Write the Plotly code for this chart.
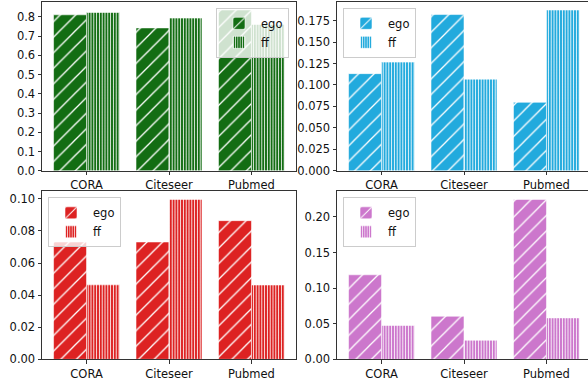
import plotly.graph_objects as go

# Datasets on the x axis
categories = ["CORA", "Citeseer", "Pubmed"]

# One metric per panel, two sampling strategies each
panel1_ego = [0.810, 0.742, 0.835]
panel1_ff = [0.822, 0.793, 0.760]

panel2_ego = [0.1132, 0.1820, 0.0798]
panel2_ff = [0.1266, 0.1068, 0.1873]

panel3_ego = [0.0731, 0.0731, 0.0864]
panel3_ff = [0.0464, 0.0996, 0.0463]

panel4_ego = [0.1187, 0.0605, 0.2245]
panel4_ff = [0.0476, 0.0268, 0.0582]

panel_colors = ["#136d13", "#22aadd", "#dd2222", "#cc77cc"]

y_ticks = [
    [0.0, 0.1, 0.2, 0.3, 0.4, 0.5, 0.6, 0.7, 0.8],
    [0.0, 0.025, 0.05, 0.075, 0.1, 0.125, 0.15, 0.175],
    [0.0, 0.02, 0.04, 0.06, 0.08, 0.10],
    [0.0, 0.05, 0.10, 0.15, 0.20],
]
y_tick_text = [
    ["0.0", "0.1", "0.2", "0.3", "0.4", "0.5", "0.6", "0.7", "0.8"],
    ["0.000", "0.025", "0.050", "0.075", "0.100", "0.125", "0.150", "0.175"],
    ["0.00", "0.02", "0.04", "0.06", "0.08", "0.10"],
    ["0.00", "0.05", "0.10", "0.15", "0.20"],
]

panels = [
    (panel1_ego, panel1_ff),
    (panel2_ego, panel2_ff),
    (panel3_ego, panel3_ff),
    (panel4_ego, panel4_ff),
]

W, H = 588, 385
FONT = dict(family="DejaVu Sans", size=11.5, color="#111")

# axis boxes in pixels: (left, right, top, bottom)
boxes = [
    (42, 296, 2, 174),
    (337, 588, 2, 174),
    (42, 296, 195, 366),
    (337, 588, 195, 366),
]
px_per_cat = (296 - 42) / 3.08

fig = go.Figure()
layout = dict(
    width=W, height=H, margin=dict(l=0, r=0, t=0, b=0),
    paper_bgcolor="white", plot_bgcolor="white",
    barmode="group", bargap=0.2, bargroupgap=0.0,
    font=FONT, showlegend=True,
)

for i, ((ego, ff), color, box) in enumerate(zip(panels, panel_colors, boxes)):
    n = i + 1
    xa = "x" if n == 1 else f"x{n}"
    ya = "y" if n == 1 else f"y{n}"
    leg = "legend" if n == 1 else f"legend{n}"
    edge = dict(color="rgba(255,255,255,0.55)", width=1)
    fig.add_trace(go.Bar(
        x=categories, y=ego, name="ego", xaxis=xa, yaxis=ya, legend=leg,
        marker=dict(color=color, line=edge,
                    pattern=dict(shape="/", fgcolor="white", bgcolor=color,
                                 size=11, solidity=0.12, fillmode="replace")),
        offsetgroup="ego",
    ))
    fig.add_trace(go.Bar(
        x=categories, y=ff, name="ff", xaxis=xa, yaxis=ya, legend=leg,
        marker=dict(color=color, line=edge,
                    pattern=dict(shape="|", fgcolor="white", bgcolor=color,
                                 size=2.8, solidity=0.3, fillmode="replace")),
        offsetgroup="ff",
    ))

    left, right, top, bottom = box
    x0 = -0.54
    x1 = x0 + (right - left) / px_per_cat
    ymax = max(max(ego), max(ff)) * 1.05
    is_right = i % 2 == 1

    layout[f"xaxis{'' if n == 1 else n}"] = dict(
        domain=[left / W, right / W], anchor=ya, range=[x0, x1],
        type="category", showline=True, linecolor="#333", linewidth=1,
        mirror=True, ticks="outside", ticklen=3.5, tickcolor="#333",
        showgrid=False, zeroline=False, tickfont=FONT,
    )
    layout[f"yaxis{'' if n == 1 else n}"] = dict(
        domain=[1 - bottom / H, 1 - top / H], anchor=xa, range=[0, ymax],
        showline=True, linecolor="#333", linewidth=1,
        mirror=(not is_right), ticks="outside", ticklen=3.5, tickcolor="#333",
        showgrid=False, zeroline=False, tickfont=FONT,
        tickvals=y_ticks[i], ticktext=y_tick_text[i],
    )

    # legend: upper right for the first panel, upper left elsewhere
    if i == 0:
        lx, lxa = 289 / W, "right"
    else:
        lx, lxa = (left + 6) / W, "left"
    layout[leg] = dict(
        x=lx, xanchor=lxa, y=1 - (top + 6) / H, yanchor="top",
        bgcolor="rgba(255,255,255,0.8)", bordercolor="#cccccc", borderwidth=1,
        font=FONT, itemwidth=34, tracegroupgap=0,
    )

fig.update_layout(**layout)
fig.write_html("out.html")
